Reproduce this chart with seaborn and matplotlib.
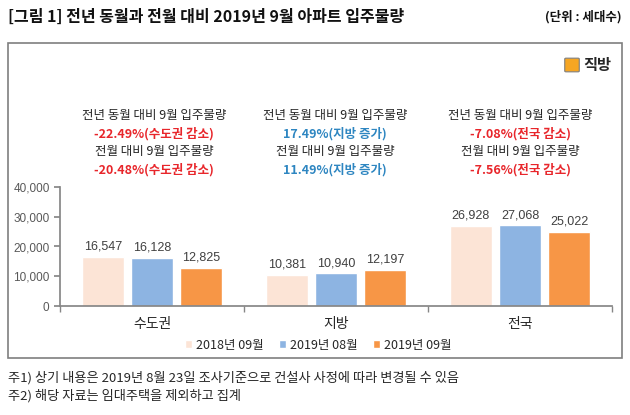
import seaborn as sns
import matplotlib.pyplot as plt
import matplotlib.patches as mpatches
import pandas as pd

# data
regions = ["수도권", "지방", "전국"]
periods = ["2018년 09월", "2019년 08월", "2019년 09월"]
val_2018_09 = [16547, 10381, 26928]
val_2019_08 = [16128, 10940, 27068]
val_2019_09 = [12825, 12197, 25022]
yoy_text = ["-22.49%(수도권 감소)", "17.49%(지방 증가)", "-7.08%(전국 감소)"]
mom_text = ["-20.48%(수도권 감소)", "11.49%(지방 증가)", "-7.56%(전국 감소)"]
note_colors = ["#e8262b", "#2e86c1", "#e8262b"]
colors = ["#fce4d6", "#8db4e2", "#f79646"]

sns.set_theme(style="white")
plt.rcParams['font.family'] = ['Noto Sans CJK KR', 'DejaVu Sans']

df = pd.DataFrame({
    "region": regions * 3,
    "period": [p for p in periods for _ in regions],
    "value": val_2018_09 + val_2019_08 + val_2019_09,
})

fig = plt.figure(figsize=(6.3, 4.15), dpi=100)
W, H = 630, 415

# outer frame
fig.patches.append(mpatches.Rectangle((8 / W, 1 - 358 / H), 614 / W, 315 / H,
                                      transform=fig.transFigure, fill=False,
                                      edgecolor="#7f7f7f", linewidth=1.2))

ax = fig.add_axes([60 / W, 1 - 306 / H, 552 / W, 119 / H])
sns.barplot(data=df, x="region", y="value", hue="period", palette=colors,
            saturation=1, width=0.8, gap=0.16, ax=ax, legend=True)

for c in ax.containers:
    ax.bar_label(c, labels=[f"{int(v):,}" for v in c.datavalues], padding=3,
                 fontsize=9, color="#404040", family="Liberation Sans")

ax.set_ylim(0, 40000)
ax.set_xlim(-0.5, 2.5)
ax.set_yticks([0, 10000, 20000, 30000, 40000])
ax.set_yticklabels([f"{v:,}" for v in ax.get_yticks().astype(int)], fontsize=8.5,
                   color="#595959", family="Liberation Sans")
ax.set_xlabel("")
ax.set_ylabel("")
ax.tick_params(axis="x", which="major", length=0, labelsize=10, pad=8)
ax.set_xticks([-0.5, 0.5, 1.5, 2.5], minor=True)
ax.tick_params(axis="x", which="minor", length=4, color="#868686", direction="out", bottom=True)
ax.tick_params(axis="y", length=4, color="#868686", direction="out", left=True)
for s in ["top", "right"]:
    ax.spines[s].set_visible(False)
ax.spines["left"].set_color("#868686")
ax.spines["bottom"].set_color("#868686")

leg = ax.legend(loc="center", bbox_to_anchor=((318 - 60) / 552, (306 - 345) / 119), ncol=3,
                frameon=False, fontsize=9, handlelength=0.6, handleheight=0.6,
                handletextpad=0.3, columnspacing=1.2)

# annotations above each group
xs = [154, 335, 520]
for i, x in enumerate(xs):
    fig.text(x / W, 1 - 115 / H, "전년 동월 대비 9월 입주물량", ha="center", va="center",
             fontsize=9, color="#262626")
    fig.text(x / W, 1 - 134 / H, yoy_text[i], ha="center", va="center",
             fontsize=9, color=note_colors[i], fontweight="bold")
    fig.text(x / W, 1 - 152 / H, "전월 대비 9월 입주물량", ha="center", va="center",
             fontsize=9, color="#262626")
    fig.text(x / W, 1 - 170 / H, mom_text[i], ha="center", va="center",
             fontsize=9, color=note_colors[i], fontweight="bold")

# titles
fig.text(8 / W, 1 - 17 / H, "[그림 1] 전년 동월과 전월 대비 2019년 9월 아파트 입주물량",
         ha="left", va="center", fontsize=11.5, fontweight="bold", color="#111111")
fig.text(622 / W, 1 - 17 / H, "(단위 : 세대수)", ha="right", va="center",
         fontsize=9, fontweight="bold", color="#111111")

# logo
fig.patches.append(mpatches.FancyBboxPatch((566 / W, 1 - 71 / H), 12 / W, 12 / H,
                                           boxstyle="round,pad=0.002", transform=fig.transFigure,
                                           facecolor="#f6a623", edgecolor="#7f7f7f", linewidth=0.8))
fig.text(611 / W, 1 - 65 / H, "직방", ha="right", va="center", fontsize=11,
         fontweight="bold", color="#262626")

# footnotes
fig.text(8 / W, 1 - 378 / H, "주1) 상기 내용은 2019년 8월 23일 조사기준으로 건설사 사정에 따라 변경될 수 있음",
         ha="left", va="center", fontsize=9.5, color="#262626")
fig.text(8 / W, 1 - 396 / H, "주2) 해당 자료는 임대주택을 제외하고 집계",
         ha="left", va="center", fontsize=9.5, color="#262626")

fig.savefig("out.png", dpi=100)
